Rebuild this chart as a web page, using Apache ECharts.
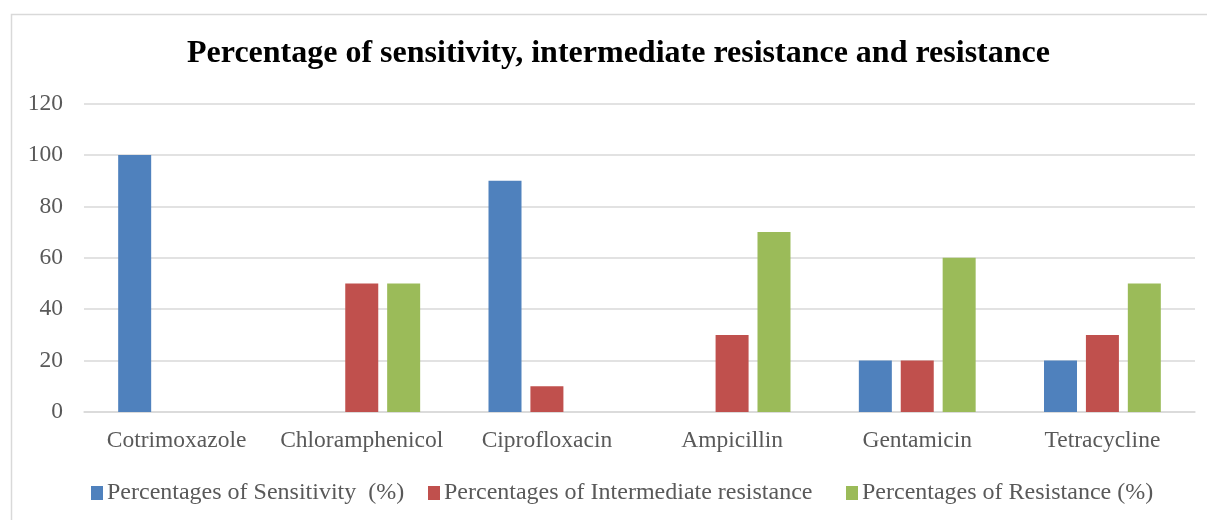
<!DOCTYPE html>
<html>
<head>
<meta charset="utf-8">
<script src="https://cdn.jsdelivr.net/npm/echarts@6/dist/echarts.min.js"></script>
<style>
html,body{margin:0;padding:0;background:#fff;}
#c{width:1207px;height:520px;}
</style>
</head>
<body>
<div id="c"></div>
<script>
const categories = ['Cotrimoxazole','Chloramphenicol','Ciprofloxacin','Ampicillin','Gentamicin','Tetracycline'];
const seriesNames = ['Percentages of Sensitivity  (%)','Percentages of Intermediate resistance','Percentages of Resistance (%)'];
const sensitivity = [100, 0, 90, 0, 20, 20];
const intermediate = [0, 50, 10, 30, 20, 30];
const resistance = [0, 50, 0, 70, 60, 50];
const colors = ['#4F81BD','#C0504D','#9BBB59'];
const yTicks = {min: 0, max: 120, interval: 20};

const chart = echarts.init(document.getElementById('c'));
const font = '"Liberation Serif", "Times New Roman", serif';
const dataSets = [sensitivity, intermediate, resistance];
const legendLefts = [91, 428, 846];
chart.setOption({
  animation: false,
  backgroundColor: '#fff',
  textStyle: {fontFamily: font},
  title: {
    text: 'Percentage of sensitivity, intermediate resistance and resistance',
    left: 187, top: 38, padding: 0,
    textStyle: {fontFamily: font, fontSize: 32, fontWeight: 'bold', color: '#000'}
  },
  graphic: [{
    type: 'rect', left: 9, top: 12, z: -1,
    shape: {x: 0, y: 0, width: 1197, height: 520},
    style: {fill: 'none', stroke: '#d9d9d9', lineWidth: 1.5}
  }],
  legend: seriesNames.map((n, i) => ({
    data: [n], left: legendLefts[i], top: 481, padding: 0,
    itemWidth: 12, itemHeight: 14, itemGap: 6,
    icon: 'rect',
    textStyle: {fontFamily: font, fontSize: 24, color: '#595959', padding: [0,0,0,-1]}
  })),
  grid: {left: 84, right: 12, top: 103.5, bottom: 108, containLabel: false},
  xAxis: {
    type: 'category', data: categories,
    axisLine: {lineStyle: {color: '#d9d9d9', width: 1.5}},
    axisTick: {show: false},
    axisLabel: {interval: 0, fontFamily: font, fontSize: 23.5, color: '#595959', margin: 17}
  },
  yAxis: {
    type: 'value', min: yTicks.min, max: yTicks.max, interval: yTicks.interval,
    axisLine: {show: false}, axisTick: {show: false},
    splitLine: {lineStyle: {color: '#d9d9d9', width: 1.5}},
    axisLabel: {fontFamily: font, fontSize: 23.5, color: '#595959', margin: 21}
  },
  series: dataSets.map((d, i) => ({
    name: seriesNames[i], type: 'bar', data: d,
    barWidth: 33, barGap: '27%',
    itemStyle: {color: colors[i]}
  }))
});
</script>
</body>
</html>
